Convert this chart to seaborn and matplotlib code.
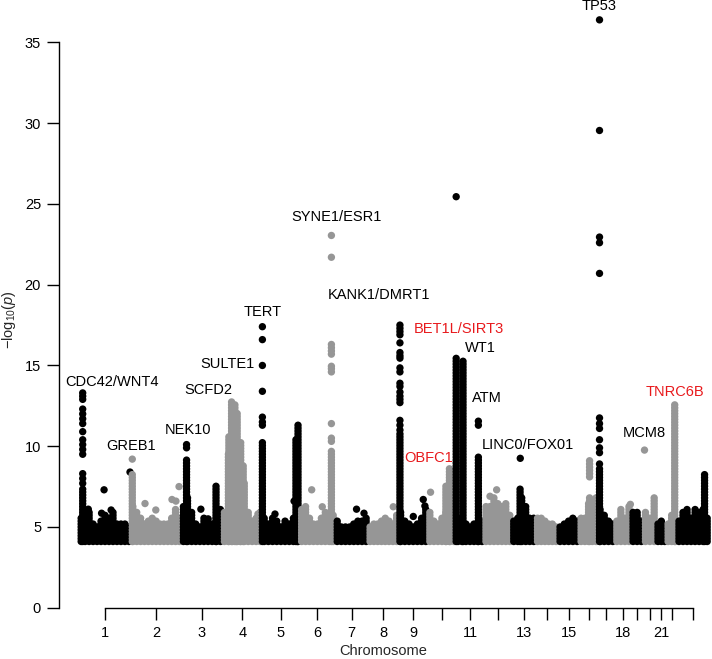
import numpy as np
import pandas as pd
import matplotlib
matplotlib.use("Agg")
import matplotlib.pyplot as plt
import seaborn as sns

# chromosome lengths in Mb (hg19), last one is X
chrom_len = [249.3, 243.2, 198.0, 191.2, 180.9, 171.1, 159.1, 146.4, 141.2, 135.5,
             135.0, 133.9, 115.2, 107.3, 102.5, 90.4, 81.2, 78.1, 59.1, 63.0,
             48.1, 51.3, 155.3]
tick_labels = ["1", "2", "3", "4", "5", "6", "7", "8", "9", "", "11", "", "13", "",
               "15", "", "", "18", "", "", "21", "", ""]

# top of the dense background band (-log10 p), read at even steps along each chromosome
band_top = [
    [5.6, 6.0, 5.9, 5.3, 5.1, 5.5, 5.8, 5.6, 6.0, 5.2, 5.3, 5.2, 5.1],
    [6.3, 6.0, 5.6, 5.3, 5.4, 5.7, 5.4, 5.2, 5.3, 5.2, 5.7, 6.1, 5.6],
    [6.4, 6.8, 5.9, 5.3, 5.1, 5.7, 5.2, 5.2, 5.6, 6.2],
    [6.0, 9.5, 11.5, 11.8, 10.0, 7.8, 6.0, 5.5, 5.6, 5.9],
    [5.6, 5.3, 5.7, 5.4, 5.1, 5.4, 5.3, 5.6, 6.0],
    [6.2, 6.3, 5.6, 5.3, 5.2, 5.6, 5.9, 5.7, 5.8],
    [5.4, 5.0, 5.1, 5.0, 5.3, 5.5, 5.4, 5.6],
    [5.0, 5.3, 5.2, 5.4, 5.6, 5.4, 5.3, 5.8],
    [6.0, 5.4, 5.2, 5.0, 5.3, 5.6, 6.2],
    [6.0, 5.5, 5.3, 5.6, 5.9, 6.3, 7.0],
    [5.6, 5.5, 5.3, 5.1, 5.2, 5.2, 5.4],
    [6.4, 6.4, 6.9, 6.6, 6.4, 6.6, 5.8],
    [5.4, 5.6, 6.8, 6.4, 5.7, 5.6],
    [5.6, 5.7, 5.4, 5.2, 5.3, 5.1],
    [5.0, 5.3, 5.4, 5.6, 5.4],
    [5.7, 5.6, 6.6, 6.4, 6.9],
    [6.2, 5.8, 5.4, 5.3],
    [5.5, 6.1, 5.6, 6.3],
    [6.0, 5.9, 5.5],
    [5.9, 5.6, 6.9],
    [5.3, 5.4, 4.9],
    [5.2, 5.8, 5.0],
    [5.4, 6.0, 6.1, 5.6, 6.1, 5.9, 6.2, 5.6],
]

# association peaks: chromosome, position (Mb), top of the solid column, single hits above it
spike_chrom = [1, 2, 3, 3, 4, 4, 4, 4, 4, 4, 5, 5, 5, 6, 9, 10, 10, 11, 11, 11, 13, 16, 17, 22, 23]
spike_pos = [17, 6.7, 25, 167, 31, 44, 60, 71, 88, 100, 1.3, 163, 173, 153, 6.7, 87, 104,
             1.0, 34, 108, 40, 50, 7.5, 40.4, 133]
spike_top = [7.4, 8.3, 9.3, 7.6, 10.6, 12.9, 12.6, 12.1, 10.3, 8.9, 10.3, 10.5, 11.3, 9.8,
             10.8, 7.6, 8.7, 15.55, 15.3, 9.4, 7.4, 6.9, 8.6, 12.55, 8.3]
spike_hits = [
    [13.3, 13.1, 12.9, 12.3, 12.0, 11.7, 11.4, 10.9, 10.4, 10.1, 9.8, 9.5, 8.3, 8.0, 7.7],
    [9.2], [10.1, 9.9], [], [], [], [], [], [], [],
    [17.4, 16.6, 15.0, 13.4, 11.8, 11.5, 11.3], [], [],
    [23.05, 21.7, 16.3, 16.1, 15.9, 15.7, 14.95, 14.8, 14.6, 11.4, 10.5, 10.3],
    [17.5, 17.3, 17.1, 16.9, 16.4, 15.8, 15.6, 15.45, 14.85, 14.6, 13.9, 13.7, 13.35,
     13.1, 12.9, 12.7, 11.6, 11.3, 11.0],
    [], [], [25.45], [], [11.55, 11.3], [], [9.1, 8.9, 8.7, 8.5, 8.3, 8.1],
    [36.4, 29.55, 22.95, 22.6, 20.7, 11.75, 11.4, 11.1, 10.4, 9.9, 9.6, 8.9], [], [],
]

# isolated points above the band
dot_chrom = [1, 1, 1, 1, 1, 2, 2, 2, 2, 2, 3, 3, 4, 5, 5, 6, 6, 7, 7, 8, 9, 9, 9, 10,
             12, 12, 13, 18, 20]
dot_pos = [120, 44, 154, 108, 245, 68, 120, 198, 217, 232, 94, 129, 171, 62, 154, 58, 109,
           103, 139, 121, 71, 119, 127, 13, 61, 29, 41, 75, 5.9]
dot_val = [7.3, 6.1, 6.05, 5.85, 8.4, 6.45, 6.05, 6.7, 6.6, 7.5, 6.1, 5.5, 5.8, 5.8, 6.6,
           7.3, 6.25, 6.1, 5.85, 6.25, 5.65, 6.7, 6.3, 7.15, 7.3, 6.9, 9.25, 6.4, 9.76]

# gene labels (text, chromosome, Mb, -log10 p, colour)
labels = [
    ("CDC42/WNT4", 1, 158.2, 13.98, "black"),
    ("GREB1", 2, -0.9, 10.03, "black"),
    ("NEK10", 3, 33.4, 11.0, "black"),
    ("SCFD2", 3, 129.8, 13.48, "black"),
    ("SULTE1", 4, 25.2, 15.09, "black"),
    ("TERT", 5, 2.9, 18.29, "black"),
    ("SYNE1/ESR1", 6, 180.1, 24.19, "black"),
    ("KANK1/DMRT1", 7, 211.4, 19.36, "black"),
    ("BET1L/SIRT3", 10, 151.2, 17.24, "#E8191C"),
    ("WT1", 11, 115.9, 16.08, "black"),
    ("ATM", 11, 148.2, 12.97, "black"),
    ("LINC0/FOX01", 13, 79.8, 10.07, "black"),
    ("OBFC1", 10, 2.3, 9.25, "#E8191C"),
    ("MCM8", 19, 63.7, 10.8, "black"),
    ("TNRC6B", 22, 41.9, 13.37, "#E8191C"),
    ("TP53", 17, 6.6, 37.26, "black"),
]

sns.set_style("ticks")
plt.rcParams["font.family"] = ["Liberation Sans", "DejaVu Sans"]
plt.rcParams["mathtext.fontset"] = "custom"
plt.rcParams["mathtext.rm"] = "Liberation Sans"
plt.rcParams["mathtext.it"] = "Liberation Sans:italic"

starts = np.concatenate([[0.0], np.cumsum(chrom_len)[:-1]])
mids = starts + np.array(chrom_len) / 2

rows = []
def add(ci, pos, val):
    rows.append((ci, starts[ci] + pos, val, "odd" if ci % 2 == 0 else "even"))

for ci, tops in enumerate(band_top):
    n = len(tops)
    for j, t in enumerate(tops):
        for v in np.arange(4.1, t + 0.01, 0.18):
            add(ci, (j + 0.5) / n * chrom_len[ci], v)

for c, p, t, hits in zip(spike_chrom, spike_pos, spike_top, spike_hits):
    for v in np.arange(4.1, t + 0.01, 0.18):
        add(c - 1, p, v)
    for v in hits:
        add(c - 1, p, v)

for c, p, v in zip(dot_chrom, dot_pos, dot_val):
    add(c - 1, p, v)

df = pd.DataFrame(rows, columns=["chrom", "pos", "logp", "shade"])
df = df.sort_values("chrom", kind="stable")

fig = plt.figure(figsize=(7.12, 6.59), dpi=100)
ax = fig.add_axes([59 / 712, (659 - 607.7) / 659, 653 / 712, 607.7 / 659])

sns.scatterplot(data=df, x="pos", y="logp", hue="shade",
                palette={"odd": "#000000", "even": "#969696"},
                s=28, linewidth=0, alpha=1, legend=False, ax=ax, clip_on=False)

for text, c, p, y, col in labels:
    ax.text(starts[c - 1] + p, y, text, color=col, fontsize=10.5,
            ha="center", va="center")

ax.set_xlim(-97.2, 3049.8)
ax.set_ylim(0, 37.63)
ax.set_yticks(range(0, 36, 5))
ax.set_xticks(mids)
ax.set_xticklabels(tick_labels)
ax.spines["top"].set_visible(False)
ax.spines["right"].set_visible(False)
ax.spines["left"].set_bounds(0, 35)
ax.spines["bottom"].set_bounds(mids[0], mids[-1])
for s in ("left", "bottom"):
    ax.spines[s].set_linewidth(1.0)
    ax.spines[s].set_color("black")
ax.tick_params(length=8.4, width=1.0, pad=4.5, labelsize=10.5, colors="black")

ax.set_ylabel(r"$-$log$_{10}$($p$)", fontsize=10.5)
ax.yaxis.set_label_coords(-0.063, 0.475)
ax.set_xlabel("Chromosome", fontsize=10.5)
ax.xaxis.set_label_coords(0.496, -0.059)

fig.savefig("out.png", dpi=100)
